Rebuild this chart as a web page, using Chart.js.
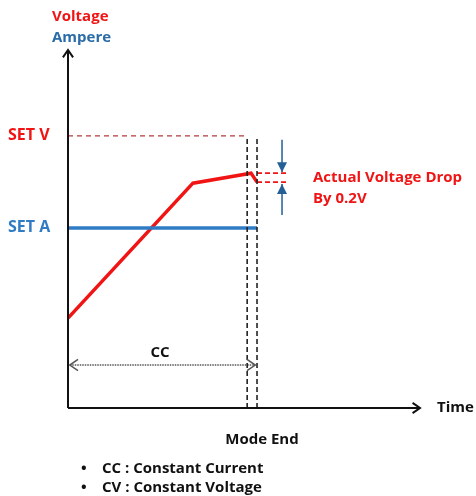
<!DOCTYPE html>
<html>
<head>
<meta charset="utf-8">
<script src="https://cdn.jsdelivr.net/npm/chart.js@4/dist/chart.umd.min.js"></script>
<style>
  html, body { margin: 0; padding: 0; background: #fff; }
  #wrap { width: 476px; height: 496px; }
</style>
</head>
<body>
<div id="wrap"><canvas id="chart" width="476" height="496"></canvas></div>
<script>
// values in chart units (time 0..10, level 0..10)
const voltageX = [0, 3.55, 5.2, 5.37];
const voltageY = [2.51, 6.28, 6.56, 6.31];
const setV = 7.6;
const setA = 5.03;
const modeEnd = [5.09, 5.37];
const dropLevels = [6.56, 6.31];
const dropEndX = 6.28;
const markerX = 6.08;
const ccY = 1.2;

const labels = {
  yTop: 'Voltage',
  yBottom: 'Ampere',
  setV: 'SET V',
  setA: 'SET A',
  drop1: 'Actual Voltage Drop',
  drop2: 'By 0.2V',
  cc: 'CC',
  time: 'Time',
  modeEnd: 'Mode End',
  notes: ['CC : Constant Current', 'CV : Constant Voltage']
};

const RED = '#f01414';
const BLUE = '#2f7bc4';
const DARKBLUE = '#245f96';
const FONT = '"Open Sans", "Noto Sans", sans-serif';

function seg(x1, y1, x2, y2) {
  return [{ x: x1, y: y1 }, { x: x2, y: y2 }];
}

const datasets = [
  // axes
  { data: seg(0, 0, 0, 10), borderColor: '#111', borderWidth: 2 },
  { data: seg(0, 0, 10, 0), borderColor: '#111', borderWidth: 2 },
  // SET V reference
  { data: seg(0, setV, modeEnd[0], setV), borderColor: '#b03a3a', borderWidth: 1.3, borderDash: [5, 4] },
  // mode end lines
  { data: seg(modeEnd[0], 0, modeEnd[0], setV), borderColor: '#222', borderWidth: 1.6, borderDash: [5, 3] },
  { data: seg(modeEnd[1], 0, modeEnd[1], setV), borderColor: '#222', borderWidth: 1.6, borderDash: [5, 3] },
  // SET A current
  { data: seg(0, setA, modeEnd[1], setA), borderColor: BLUE, borderWidth: 3.5 },
  // voltage
  { data: voltageX.map((x, i) => ({ x: x, y: voltageY[i] })), borderColor: RED, borderWidth: 3.5 },
  // drop dashed
  { data: seg(modeEnd[1], dropLevels[0], dropEndX, dropLevels[0]), borderColor: RED, borderWidth: 1.6, borderDash: [5, 3] },
  { data: seg(modeEnd[1], dropLevels[1], dropEndX, dropLevels[1]), borderColor: RED, borderWidth: 1.6, borderDash: [5, 3] },
  // blue markers
  { data: seg(markerX, 7.49, markerX, dropLevels[0] + 0.03), borderColor: DARKBLUE, borderWidth: 1.5 },
  { data: seg(markerX, 5.39, markerX, dropLevels[1] - 0.05), borderColor: DARKBLUE, borderWidth: 1.5 },
  // CC span
  { data: seg(0.05, ccY, modeEnd[1] - 0.05, ccY), borderColor: '#555', borderWidth: 1.5, borderDash: [1.5, 1] }
].map(d => Object.assign({ showLine: true, pointRadius: 0, fill: false, clip: false, tension: 0 }, d));

function chevron(ctx, x, y, dx, dy, size, color, width) {
  // open arrowhead pointing in direction (dx, dy)
  const a = Math.atan2(dy, dx);
  ctx.save();
  ctx.strokeStyle = color;
  ctx.lineWidth = width;
  ctx.beginPath();
  ctx.moveTo(x - size * Math.cos(a - 0.6), y - size * Math.sin(a - 0.6));
  ctx.lineTo(x, y);
  ctx.lineTo(x - size * Math.cos(a + 0.6), y - size * Math.sin(a + 0.6));
  ctx.stroke();
  ctx.restore();
}

function triangle(ctx, x, y, dir, color) {
  ctx.save();
  ctx.fillStyle = color;
  ctx.beginPath();
  ctx.moveTo(x, y);
  ctx.lineTo(x - 5, y - 10 * dir);
  ctx.lineTo(x + 5, y - 10 * dir);
  ctx.closePath();
  ctx.fill();
  ctx.restore();
}

const decor = {
  id: 'decor',
  afterDatasetsDraw(chart) {
    const ctx = chart.ctx;
    const sx = chart.scales.x, sy = chart.scales.y;
    const px = v => sx.getPixelForValue(v);
    const py = v => sy.getPixelForValue(v);

    // axis arrowheads
    chevron(ctx, px(0), py(10), 0, -1, 9, '#111', 2);
    chevron(ctx, px(10), py(0), 1, 0, 9, '#111', 2);
    // CC arrowheads
    chevron(ctx, px(0.05), py(ccY), -1, 0, 10, '#555', 1.5);
    chevron(ctx, px(modeEnd[1] - 0.05), py(ccY), 1, 0, 10, '#555', 1.5);
    // blue triangles
    triangle(ctx, px(markerX), py(dropLevels[0]) - 1, 1, DARKBLUE);
    triangle(ctx, px(markerX), py(dropLevels[1]) + 2, -1, DARKBLUE);

    ctx.save();
    ctx.textBaseline = 'middle';
    ctx.font = 'bold 15px ' + FONT;
    ctx.textAlign = 'left';
    ctx.fillStyle = RED;
    ctx.fillText(labels.yTop, 52, 17);
    ctx.fillStyle = '#2a6ca8';
    ctx.fillText(labels.yBottom, 52, 38);

    ctx.font = 'bold 16px ' + FONT;
    ctx.fillStyle = RED;
    ctx.fillText(labels.setV, 8, py(setV));
    ctx.fillStyle = BLUE;
    ctx.fillText(labels.setA, 8, py(setA));

    ctx.font = 'bold 15px ' + FONT;
    ctx.fillStyle = RED;
    ctx.fillText(labels.drop1, 313, 178);
    ctx.fillText(labels.drop2, 313, 199);

    ctx.fillStyle = '#111';
    ctx.fillText(labels.time, 437, py(0));
    ctx.textAlign = 'center';
    ctx.fillText(labels.cc, 160, py(ccY) - 12);
    ctx.fillText(labels.modeEnd, 262, 440);
    ctx.textAlign = 'left';
    labels.notes.forEach((t, i) => {
      const y = 469 + i * 19;
      ctx.fillText('\u2022', 81, y);
      ctx.fillText(t, 102, y);
    });
    ctx.restore();
  }
};

new Chart(document.getElementById('chart'), {
  type: 'scatter',
  data: { datasets: datasets },
  options: {
    responsive: false,
    animation: false,
    events: [],
    layout: { padding: { left: 68, right: 56, top: 50, bottom: 88 } },
    plugins: { legend: { display: false }, tooltip: { enabled: false } },
    scales: {
      x: { type: 'linear', min: 0, max: 10, display: false },
      y: { type: 'linear', min: 0, max: 10, display: false }
    }
  },
  plugins: [decor]
});
</script>
</body>
</html>
